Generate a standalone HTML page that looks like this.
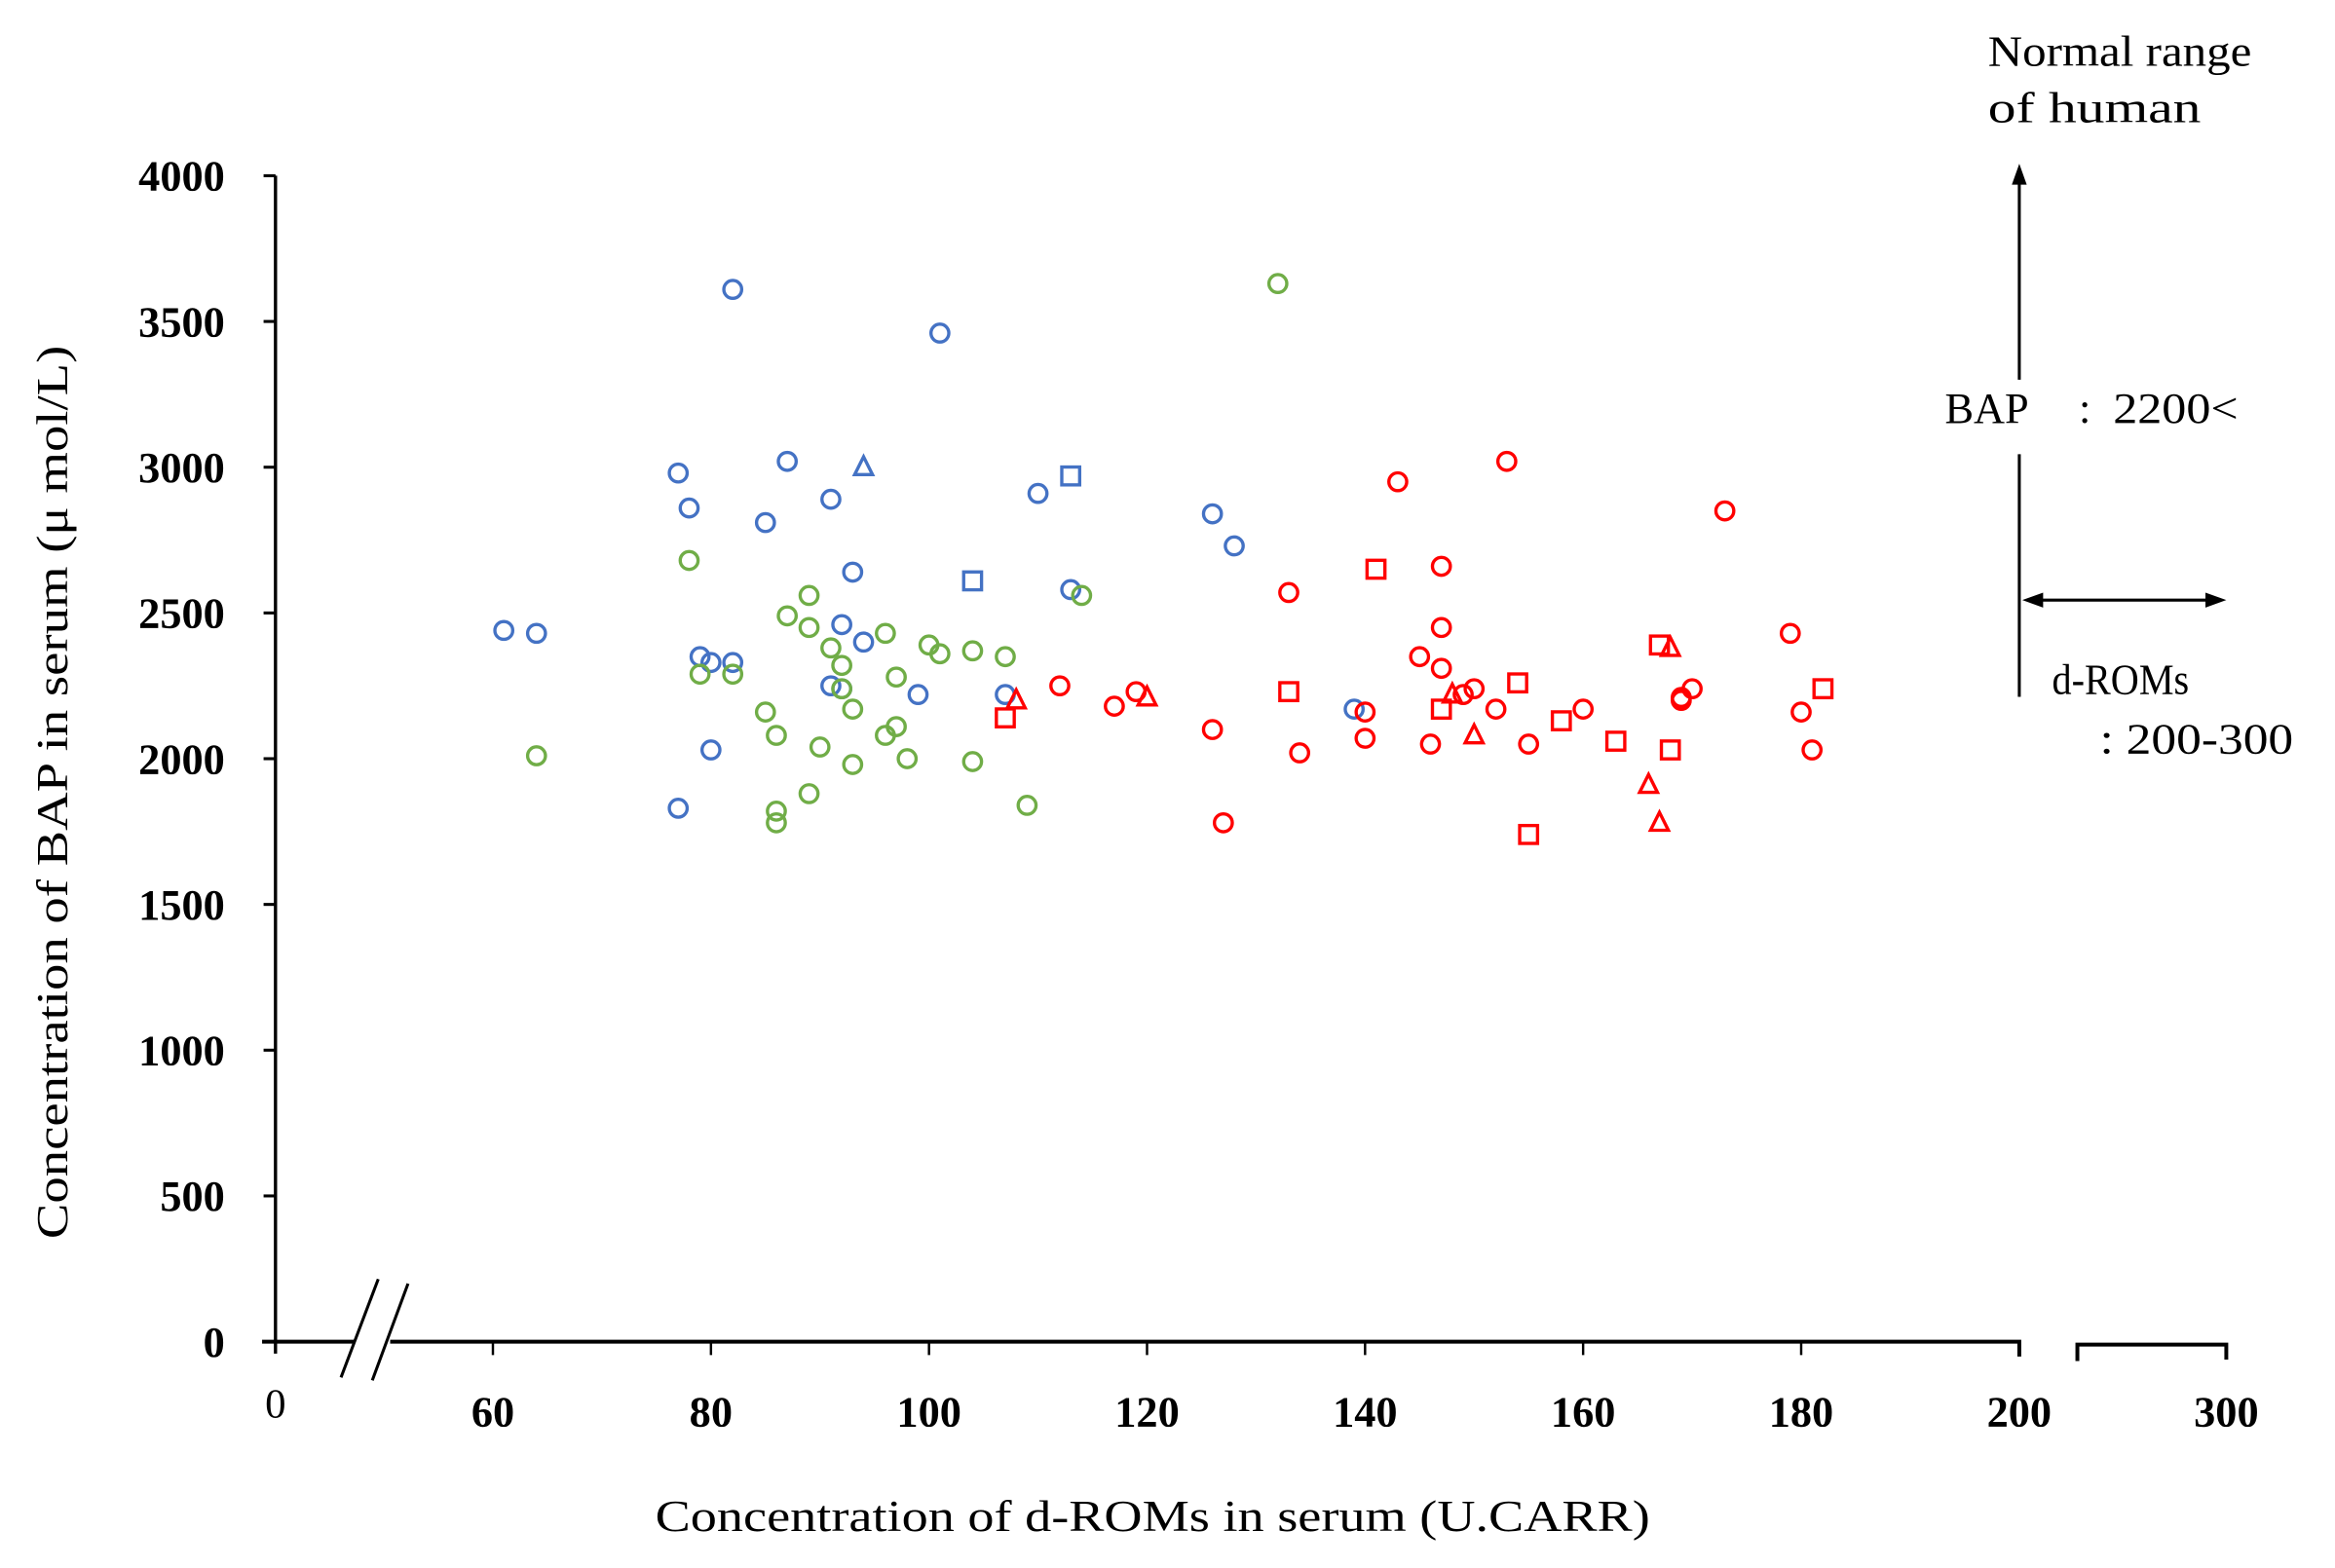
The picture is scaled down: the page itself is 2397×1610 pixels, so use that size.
<!DOCTYPE html>
<html><head><meta charset="utf-8"><style>
html,body{margin:0;padding:0;background:#fff;}
svg{display:block;}
text{font-family:"Liberation Serif",serif;fill:#000;}
</style></head><body>
<svg id="chart" width="2397" height="1610" viewBox="0 0 1568 1053" preserveAspectRatio="none" xmlns="http://www.w3.org/2000/svg">
<g id="axes"></g>
<g id="marks"></g>
<text transform="translate(45,532) rotate(-90)" text-anchor="middle" font-size="30" textLength="600" lengthAdjust="spacingAndGlyphs">Concentration of BAP in serum (μ mol/L)</text>
<text x="774" y="1028" text-anchor="middle" font-size="30" textLength="668" lengthAdjust="spacingAndGlyphs">Concentration of d-ROMs  in serum (U.CARR)</text>
<text x="1335" y="44" font-size="29" textLength="177" lengthAdjust="spacingAndGlyphs">Normal range</text>
<text x="1335" y="82" font-size="29" textLength="143" lengthAdjust="spacingAndGlyphs">of human</text>
<line x1="1356" y1="255" x2="1356" y2="122" stroke="#000" stroke-width="2"/>
<polygon points="1356,110 1351,124 1361,124" fill="#000"/>
<line x1="1356" y1="305" x2="1356" y2="468" stroke="#000" stroke-width="2"/>
<text x="1306" y="284" font-size="29">BAP</text>
<text x="1396" y="284" font-size="29">:</text>
<text x="1419" y="284" font-size="29" textLength="84" lengthAdjust="spacingAndGlyphs">2200&lt;</text>
<line x1="1370" y1="403" x2="1483" y2="403" stroke="#000" stroke-width="2"/>
<polygon points="1358,403 1372,398 1372,408" fill="#000"/>
<polygon points="1495,403 1481,398 1481,408" fill="#000"/>
<text x="1378" y="466" font-size="29" textLength="92" lengthAdjust="spacingAndGlyphs">d-ROMs</text>
<text x="1410" y="506" font-size="29" textLength="130" lengthAdjust="spacingAndGlyphs">: 200-300</text>
</svg>
<script>
const yTicks = [0,500,1000,1500,2000,2500,3000,3500,4000];
const xTicks = [60,80,100,120,140,160,180,200];
const blueCircX = [61,64,82,101,77,87,78,85,91,110,126,128,93,113,92,94,79,80,82,91,92,99,107,139,80,77];
const blueCircY = [2440,2430,3610,3460,2980,3020,2860,2810,2890,2910,2840,2730,2640,2580,2460,2400,2350,2330,2330,2250,2240,2220,2220,2170,2030,1830];
const blueTriX = [94];
const blueTriY = [3000];
const blueSqX = [113,104];
const blueSqY = [2970,2610];
const greenCircX = [132,78,89,114,87,89,96,91,100,101,104,107,92,79,82,97,92,85,93,97,86,96,90,98,104,93,64,89,109,86,86];
const greenCircY = [3630,2680,2560,2560,2490,2450,2430,2380,2390,2360,2370,2350,2320,2290,2290,2280,2240,2160,2170,2110,2080,2080,2040,2000,1990,1980,2010,1880,1840,1820,1780];
const redCircX = [112,119,117,126,127,133,134,143,153,147,147,145,147,140,140,146,149,150,152,155,160,173,179,180,181,169,170,169];
const redCircY = [2250,2230,2180,2100,1780,2570,2020,2950,3020,2660,2450,2350,2310,2160,2070,2050,2220,2240,2170,2050,2170,2850,2430,2160,2030,2210,2240,2200];
const redSqX = [107,133,141,147,154,155,158,163,167,168,182];
const redSqY = [2140,2230,2650,2170,2260,1740,2130,2060,2390,2030,2240];
const redTriX = [108,120,148,150,166,167,168];
const redTriY = [2200,2210,2220,2080,1910,1780,2380];

const NS = "http://www.w3.org/2000/svg";
function xs(v){ return 331 + (v-60)*7.321; }
function ys(v){ return 901 - v*0.19575; }
const axes = document.getElementById('axes');
const marks = document.getElementById('marks');
function mk(tag, attrs, parent){
  const e = document.createElementNS(NS, tag);
  for (const k in attrs) e.setAttribute(k, attrs[k]);
  parent.appendChild(e);
  return e;
}
let e;
e = mk('line',{x1:185,y1:ys(4000),x2:185,y2:909,stroke:'#000','stroke-width':2.2},axes);


e = mk('polyline',{points:'176,901 238,901',stroke:'#000','stroke-width':2.6,fill:'none'},axes);


e = mk('polyline',{points:'262,901 1356,901 1356,911',stroke:'#000','stroke-width':2.6,fill:'none'},axes);


e = mk('polyline',{points:'1395,914 1395,903 1495,903 1495,913',stroke:'#000','stroke-width':2.6,fill:'none'},axes);


e = mk('path',{d:'M229,925 L254,859 M250,927 L274,862',stroke:'#000','stroke-width':2,fill:'none'},axes);


e = mk('text',{x:185,y:952,'text-anchor':'middle','font-size':28},axes);
e.textContent='0';


e = mk('text',{x:1495,y:958,'text-anchor':'middle','font-size':29,'font-weight':'bold'},axes);
e.textContent='300';


yTicks.forEach(t=>{
  const y = ys(t);
  let l = mk('line',{x1:177,y1:y,x2:185,y2:y,stroke:'#000','stroke-width':2},axes);
  
  
  let tx = mk('text',{x:151,y:y+10,'text-anchor':'end','font-size':29,'font-weight':'bold'},axes);
  tx.textContent = String(t);
  
  
});
xTicks.forEach(t=>{
  const x = xs(t);
  let l = mk('line',{x1:x,y1:901,x2:x,y2:910,stroke:'#000','stroke-width':1.6},axes);
  
  
  let tx = mk('text',{x:x,y:958,'text-anchor':'middle','font-size':29,'font-weight':'bold'},axes);
  tx.textContent = String(t);
  
  
});
function circles(X,Y,color,name){
  X.forEach((v,i)=>{
    const c = mk('circle',{cx:xs(v),cy:ys(Y[i]),r:6,fill:'none',stroke:color,'stroke-width':2.2},marks);
    
    
  });
}
function squares(X,Y,color,name){
  X.forEach((v,i)=>{
    const s = mk('rect',{x:xs(v)-6,y:ys(Y[i])-6,width:12,height:12,fill:'none',stroke:color,'stroke-width':2.2},marks);
    
    
  });
}
function tris(X,Y,color,name){
  X.forEach((v,i)=>{
    const x=xs(v), y=ys(Y[i]);
    const p = mk('polygon',{points:`${x},${y-7} ${x-6},${y+5} ${x+6},${y+5}`,fill:'none',stroke:color,'stroke-width':2.2},marks);
    
    
  });
}
circles(blueCircX,blueCircY,'#4472C4','blue-circle-point');
tris(blueTriX,blueTriY,'#4472C4','blue-triangle-point');
squares(blueSqX,blueSqY,'#4472C4','blue-square-point');
circles(greenCircX,greenCircY,'#70AD47','green-circle-point');
circles(redCircX,redCircY,'#FF0000','red-circle-point');
squares(redSqX,redSqY,'#FF0000','red-square-point');
tris(redTriX,redTriY,'#FF0000','red-triangle-point');
</script>
</body></html>
